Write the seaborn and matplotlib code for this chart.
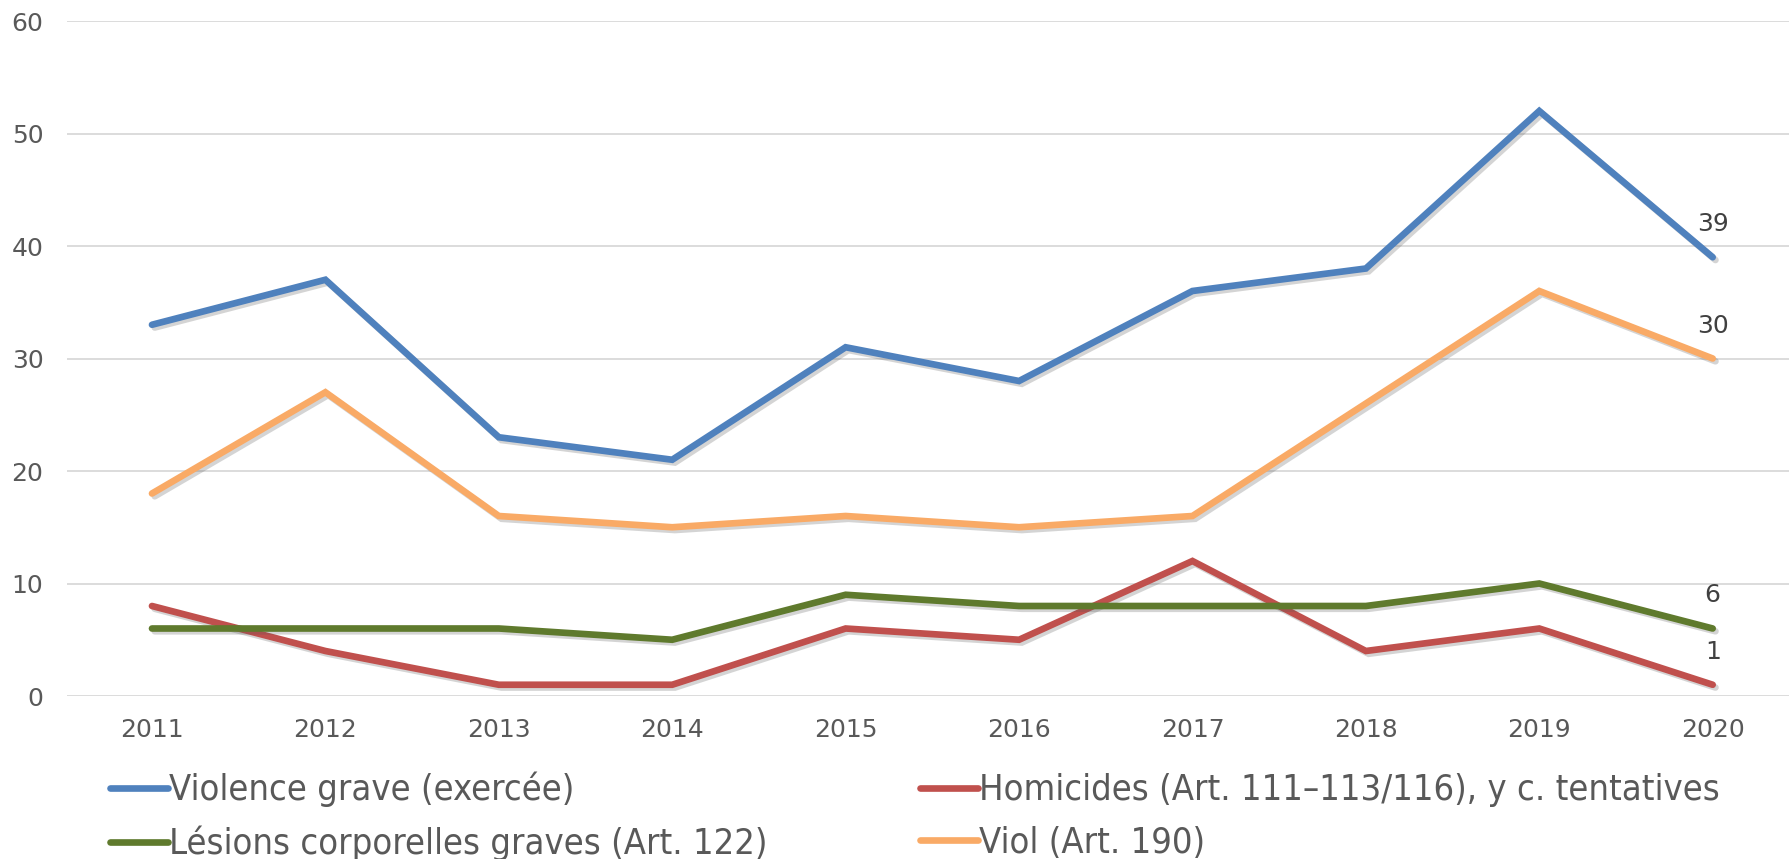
import pandas as pd
import matplotlib
matplotlib.use("Agg")
import matplotlib.pyplot as plt
import matplotlib.patheffects as pe
from matplotlib import font_manager as fm
import seaborn as sns

years = [2011, 2012, 2013, 2014, 2015, 2016, 2017, 2018, 2019, 2020]
violence = [33, 37, 23, 21, 31, 28, 36, 38, 52, 39]
homicides = [8, 4, 1, 1, 6, 5, 12, 4, 6, 1]
lesions = [6, 6, 6, 5, 9, 8, 8, 8, 10, 6]
viol = [18, 27, 16, 15, 16, 15, 16, 26, 36, 30]

names = ["Violence grave (exercée)",
         "Homicides (Art. 111–113/116), y c. tentatives",
         "Lésions corporelles graves (Art. 122)",
         "Viol (Art. 190)"]
colors = ["#4F81BD", "#C0504D", "#5F7A2D", "#F9AA66"]

df = pd.concat([
    pd.DataFrame({"year": range(len(years)), "value": v, "serie": n})
    for v, n in zip([violence, homicides, lesions, viol], names)
])

sns.set_style("white")
plt.rcParams['font.family'] = ['DejaVu Sans']

# narrow font for the legend, if one is installed
def narrow_font():
    narrow = [f for f in fm.fontManager.ttflist
              if f.style == "normal" and f.weight in (400, "normal", "regular")
              and ("Narrow" in f.name or "Condensed" in f.name
                   or "condensed" in str(f.stretch) or "Condensed" in f.fname
                   or "Narrow" in f.fname)
              and "Semi" not in f.fname and "Extra" not in f.fname]
    for key in ["DejaVuSansCondensed", "LiberationSansNarrow", "Roboto", "OpenSans", "Noto"]:
        for f in narrow:
            if key in f.fname.replace("-", ""):
                return fm.FontProperties(fname=f.fname)
    if narrow:
        return fm.FontProperties(fname=narrow[0].fname)
    return fm.FontProperties(family="DejaVu Sans")

leg_font = narrow_font()

fig = plt.figure(figsize=(17.89, 8.59), dpi=100)
ax = fig.add_axes([67 / 1789, 1 - 696 / 859, (1789 - 67) / 1789, (696 - 21) / 859])

sns.lineplot(data=df, x="year", y="value", hue="serie", hue_order=names,
             palette=colors, linewidth=4.8, ax=ax, legend=False,
             solid_capstyle="round", solid_joinstyle="miter")

for line in ax.get_lines():
    line.set_path_effects([pe.SimpleLineShadow(offset=(2, -2), alpha=0.25, shadow_color="#555555"),
                           pe.Normal()])

# labels at last point
for v in [violence, homicides, lesions, viol]:
    ax.annotate(str(v[-1]), (len(years) - 1, v[-1]), xytext=(0, 33),
                textcoords="offset pixels", ha="center", va="center",
                fontsize=18, color="#404040")

ax.set_xlim(-0.49, 9.44)
ax.set_ylim(0, 60)
ax.set_yticks(range(0, 61, 10))
ax.set_xticks(range(len(years)))
ax.set_xticklabels([str(y) for y in years])
ax.grid(axis="y", color="#D9D9D9", linewidth=1.3)
ax.set_axisbelow(True)
for s in ax.spines.values():
    s.set_visible(False)
ax.tick_params(axis="both", length=0, labelsize=18, labelcolor="#595959")
ax.tick_params(axis="x", pad=16)
ax.tick_params(axis="y", pad=17)
ax.set_xlabel("")
ax.set_ylabel("")

# size the legend font so the labels are about as wide as in the reference
renderer = fig.canvas.get_renderer()
probe = fig.text(0, 0, names[0], fontproperties=leg_font, fontsize=30)
w = probe.get_window_extent(renderer).width
probe.remove()
leg_size = 30 * 405 / w
fs_px = leg_size * 100 / 72
leg_font.set_size(leg_size)

handles = [plt.Line2D([], [], color=c, linewidth=4.8, solid_capstyle="round") for c in colors]
order = [0, 2, 1, 3]
# column 1 text ends near x=761, column 2 handle starts near x=920
probe = fig.text(0, 0, names[2], fontproperties=leg_font)
w2 = probe.get_window_extent(renderer).width
probe.remove()
col_gap = (920 - (169 + w2)) / fs_px
fig.legend([handles[i] for i in order], [names[i] for i in order],
           loc="center left", bbox_to_anchor=(110 / 1789, 1 - 816.5 / 859),
           ncol=2, frameon=False, borderpad=0, borderaxespad=0,
           handlelength=58 / fs_px, handletextpad=1 / fs_px, columnspacing=col_gap,
           labelspacing=(60 - fs_px * 1.15) / fs_px,
           prop=leg_font, labelcolor="#595959")

fig.savefig("out.png", dpi=100)
